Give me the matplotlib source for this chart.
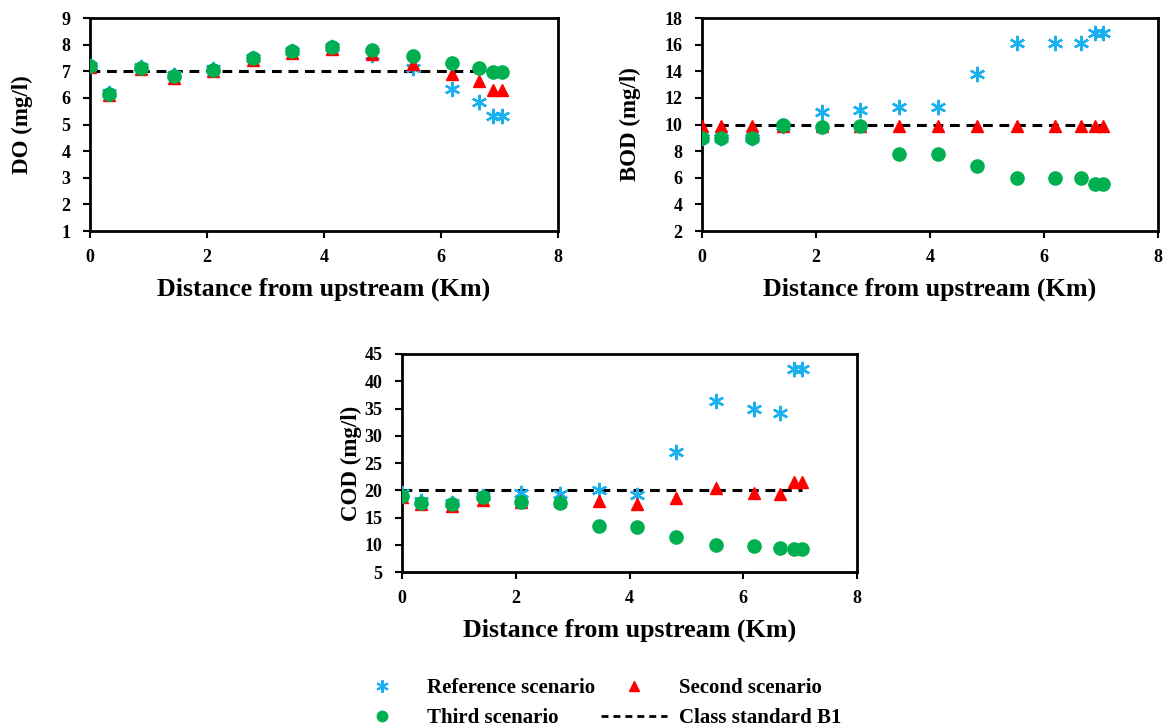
import matplotlib
matplotlib.use("Agg")
import matplotlib.pyplot as plt
from matplotlib.lines import Line2D

plt.rcParams['font.family'] = ['Liberation Serif', 'DejaVu Serif']
plt.rcParams['font.weight'] = 'bold'

# Distance from upstream (Km)
distance = [0, 0.33, 0.88, 1.43, 2.1, 2.78, 3.46, 4.14, 4.82, 5.52, 6.19, 6.65, 6.89, 7.04]

# DO (mg/l)
do_reference = [7.2, 6.2, 7.15, 6.85, 7.1, 7.5, 7.75, 7.9, 7.6, 7.13, 6.34, 5.84, 5.31, 5.31]
do_second = [7.15, 6.1, 7.08, 6.76, 7.02, 7.42, 7.68, 7.85, 7.63, 7.29, 6.88, 6.63, 6.31, 6.31]
do_third = [7.19, 6.16, 7.12, 6.81, 7.06, 7.48, 7.75, 7.91, 7.81, 7.56, 7.31, 7.12, 6.98, 6.98]
do_standard = 7

# BOD (mg/l)
bod_reference = [9.0, 9.0, 9.0, 9.9, 10.93, 11.08, 11.3, 11.3, 13.8, 16.1, 16.1, 16.1, 16.88, 16.88]
bod_second = [9.9, 9.9, 9.9, 9.9, 9.9, 9.9, 9.9, 9.9, 9.9, 9.9, 9.9, 9.9, 9.9, 9.9]
bod_third = [9.0, 9.0, 9.0, 9.93, 9.83, 9.88, 7.75, 7.75, 6.88, 5.95, 5.95, 5.95, 5.55, 5.55]
bod_standard = 10

# COD (mg/l)
cod_reference = [19.5, 18.0, 17.7, 19.0, 19.5, 19.4, 20.1, 19.2, 27.0, 36.4, 35.0, 34.2, 42.3, 42.3]
cod_second = [18.8, 17.4, 17.1, 18.3, 17.8, 18.1, 18.0, 17.5, 18.6, 20.4, 19.5, 19.3, 21.6, 21.6]
cod_third = [19.0, 17.7, 17.4, 18.8, 17.85, 17.7, 13.5, 13.3, 11.4, 9.9, 9.7, 9.4, 9.2, 9.2]
cod_standard = 20

x_ticks = [0, 2, 4, 6, 8]
labels = ['Reference scenario', 'Second scenario', 'Third scenario', 'Class standard B1']
xlabel = 'Distance from upstream (Km)'

c_ref = '#1AAFEF'
c_sec = '#FF0000'
c_thi = '#00B050'
star = (6, 2, 0)

fig = plt.figure(figsize=(11.63, 7.26), dpi=100)


def panel(rect, ref, sec, thi, std, ylabel, yticks, ylab_x):
    ax = fig.add_axes(rect)
    ax.plot(distance, ref, linestyle='none', marker=star, markersize=11,
            markeredgewidth=1.7, color=c_ref, zorder=3)
    ax.plot(distance, sec, linestyle='none', marker='^', markersize=9,
            color=c_sec, zorder=4)
    ax.plot(distance, thi, linestyle='none', marker='o', markersize=9.5,
            color=c_thi, zorder=5)
    ax.plot([distance[0], distance[-1]], [std, std], color='black', lw=2.2,
            dashes=(3.2, 2.2), zorder=2)
    ax.set_xlim(x_ticks[0], x_ticks[-1])
    ax.set_ylim(yticks[0], yticks[-1])
    ax.set_xticks(x_ticks)
    ax.set_yticks(yticks)
    for s in ax.spines.values():
        s.set_linewidth(2)
    ax.tick_params(direction='out', length=5, width=1.5, labelsize=13)
    ax.tick_params(axis='y', pad=9)
    ax.tick_params(axis='x', pad=8)
    for lab in ax.get_xticklabels() + ax.get_yticklabels():
        lab.set_fontweight('bold')
    ax.set_xlabel(xlabel, fontsize=18.7, fontweight='bold', labelpad=8)
    ax.set_ylabel(ylabel, fontsize=16.5, fontweight='bold')
    ax.yaxis.set_label_coords(ylab_x, 0.5)
    return ax


panel([0.0774, 0.6818, 0.4024, 0.2934], do_reference, do_second, do_third,
      do_standard, 'DO (mg/l)', list(range(1, 10)), -0.122)
panel([0.6036, 0.6818, 0.3921, 0.2934], bod_reference, bod_second, bod_third,
      bod_standard, 'BOD (mg/l)', list(range(2, 19, 2)), -0.134)
panel([0.3457, 0.2121, 0.3912, 0.3003], cod_reference, cod_second, cod_third,
      cod_standard, 'COD (mg/l)', list(range(5, 46, 5)), -0.088)

handles = [
    Line2D([], [], linestyle='none', marker=star, markersize=9, markeredgewidth=1.5, color=c_ref),
    Line2D([], [], linestyle='none', marker='o', markersize=7.5, color=c_thi),
    Line2D([], [], linestyle='none', marker='^', markersize=7.5, color=c_sec),
    Line2D([], [], color='black', lw=2, dashes=(2.5, 1.8)),
]
leg_labels = [labels[0], labels[2], labels[1], labels[3]]
fig.legend(handles, leg_labels, ncol=2, loc='center', bbox_to_anchor=(0.5115, 0.0315),
           frameon=False, handlelength=3.2, handletextpad=0.55, columnspacing=0.27,
           labelspacing=0.5, prop={'family': 'Liberation Serif', 'weight': 'bold', 'size': 15})

fig.savefig('out.png', dpi=100)
